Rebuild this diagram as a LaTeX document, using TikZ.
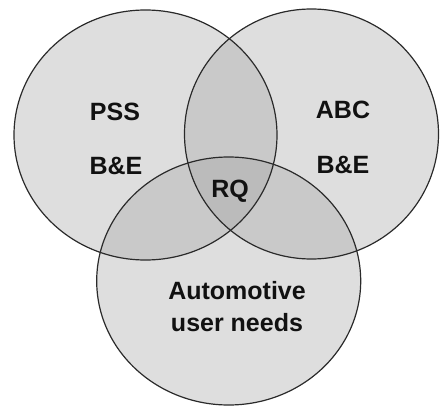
\documentclass[tikz,border=0pt]{standalone}
\usepackage{fontspec}
\setmainfont{Liberation Sans}
\definecolor{one}{HTML}{DEDEDE}
\definecolor{two}{HTML}{C9C9C9}
\definecolor{three}{HTML}{BBBBBB}
\definecolor{edge}{HTML}{2A2A2A}
\definecolor{ink}{HTML}{111111}
\tikzset{
  lbl/.style={font=\fontsize{25}{32}\selectfont\bfseries, text=ink, align=center, inner sep=0pt},
  rim/.style={draw=edge, line width=1.2pt}
}
\begin{document}
\begin{tikzpicture}[x=1pt,y=-1pt]
\useasboundingbox (0,0) rectangle (440,407);
\def\EA{(145.5,135) ellipse [x radius=131.5, y radius=125]}
\def\EB{(311.5,134) ellipse [x radius=127, y radius=125]}
\def\EC{(228.7,281) ellipse [x radius=132, y radius=124]}
% single fills
\fill[one] \EA; \fill[one] \EB; \fill[one] \EC;
% pair overlaps
\begin{scope}\clip \EA; \fill[two] \EB; \fill[two] \EC; \end{scope}
\begin{scope}\clip \EB; \fill[two] \EC; \end{scope}
% triple overlap
\begin{scope}\clip \EA; \clip \EB; \fill[three] \EC; \end{scope}
% outlines
\draw[rim] \EA; \draw[rim] \EB; \draw[rim] \EC;
% labels
\node[lbl] (pss) at (115,112) {PSS};
\node[lbl] (be1) at (116,166) {B\&E};
\node[lbl] (abc) at (343,110) {ABC};
\node[lbl] (be2) at (343,165) {B\&E};
\node[lbl] (rq) at (230,191) {RQ};
\node[lbl] (aun) at (237,307) {Automotive\\user needs};
\end{tikzpicture}
\end{document}
